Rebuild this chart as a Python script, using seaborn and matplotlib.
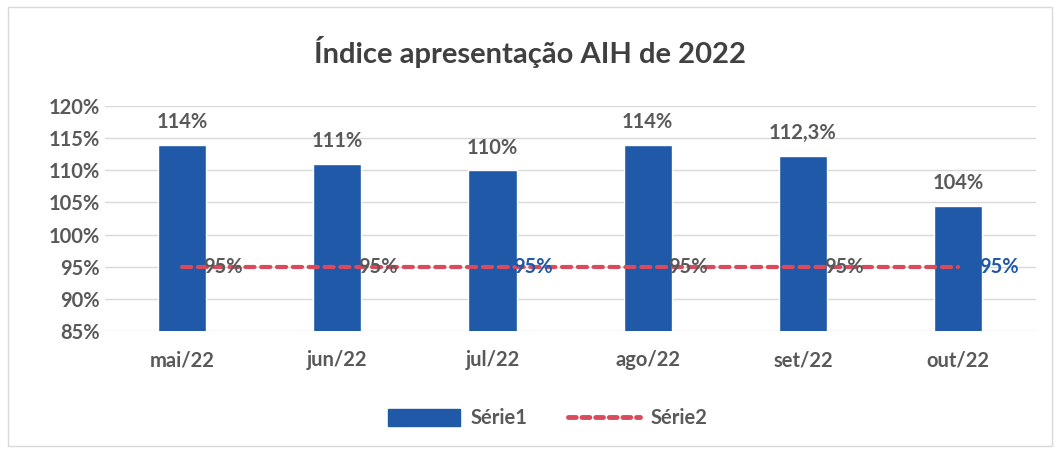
import pandas as pd
import matplotlib.pyplot as plt
import seaborn as sns
from matplotlib.patches import Rectangle
from matplotlib.lines import Line2D

meses = ['mai/22', 'jun/22', 'jul/22', 'ago/22', 'set/22', 'out/22']
serie1 = [114, 111, 110, 114, 112.3, 104.5]
rotulos1 = ['114%', '111%', '110%', '114%', '112,3%', '104%']
serie2 = [95, 95, 95, 95, 95, 95]
rotulos2 = ['95%', '95%', '95%', '95%', '95%', '95%']

df = pd.DataFrame({'mes': meses, 'Série1': serie1, 'Série2': serie2})

sns.set_theme(style='white')
plt.rcParams['font.family'] = ['Lato', 'DejaVu Sans']

AZUL = '#1f59a7'
VERMELHO = '#d94a5c'
CINZA = '#595959'

fig = plt.figure(figsize=(10.59, 4.5), dpi=100)
ax = fig.add_axes([0.0987, 0.2644, 0.8793, 0.5])

sns.barplot(data=df, x='mes', y='Série1', color=AZUL, width=0.31,
            saturation=1, ax=ax, zorder=2)
ax.plot(range(len(meses)), df['Série2'], color=VERMELHO, lw=3,
        ls=(0, (2.2, 1.6)), dash_capstyle='round', zorder=3)

ax.set_ylim(85, 120)
ax.set_xlim(-0.5, len(meses) - 0.5)
ax.set_yticks(range(85, 121, 5))
ax.set_yticklabels([f'{v}%' for v in range(85, 121, 5)])
ax.yaxis.grid(True, color='#d9d9d9', lw=1)
ax.set_axisbelow(True)
for s in ax.spines.values():
    s.set_visible(False)
ax.set_xlabel('')
ax.set_ylabel('')
ax.tick_params(axis='both', length=0, labelsize=14.5, labelcolor=CINZA)
ax.tick_params(axis='x', pad=14)
for t in ax.get_yticklabels() + ax.get_xticklabels():
    t.set_fontweight('bold')

for i, (v, r) in enumerate(zip(serie1, rotulos1)):
    ax.annotate(r, (i, v), xytext=(0, 9), textcoords='offset points',
                ha='center', va='bottom', fontsize=14.5, fontweight='bold',
                color=CINZA)
for i, (v, r) in enumerate(zip(serie2, rotulos2)):
    cor = AZUL if i in (2, 5) else CINZA
    ax.annotate(r, (i, v), xytext=(15, 0), textcoords='offset points',
                ha='left', va='center', fontsize=14.5, fontweight='bold',
                color=cor, zorder=4)

fig.text(0.5, 0.885, 'Índice apresentação AIH de 2022', ha='center',
         va='center', fontsize=21, fontweight='bold', color='#404040')

handles = [Rectangle((0, 0), 1, 1, color=AZUL),
           Line2D([0], [0], color=VERMELHO, lw=3.5, ls=(0, (1.6, 1.2)),
                  dash_capstyle='round')]
fig.legend(handles, ['Série1', 'Série2'], loc='center',
           bbox_to_anchor=(0.517, 0.07), ncol=2, frameon=False,
           handlelength=3.6, handleheight=0.9, columnspacing=2,
           handletextpad=0.5, prop={'size': 14.5, 'weight': 'bold'},
           labelcolor=CINZA)

fig.patches.append(Rectangle((0.008, 0.01), 0.985, 0.975,
                             transform=fig.transFigure, fill=False,
                             edgecolor='#d9d9d9', lw=1))

plt.savefig('out.png', dpi=100)
